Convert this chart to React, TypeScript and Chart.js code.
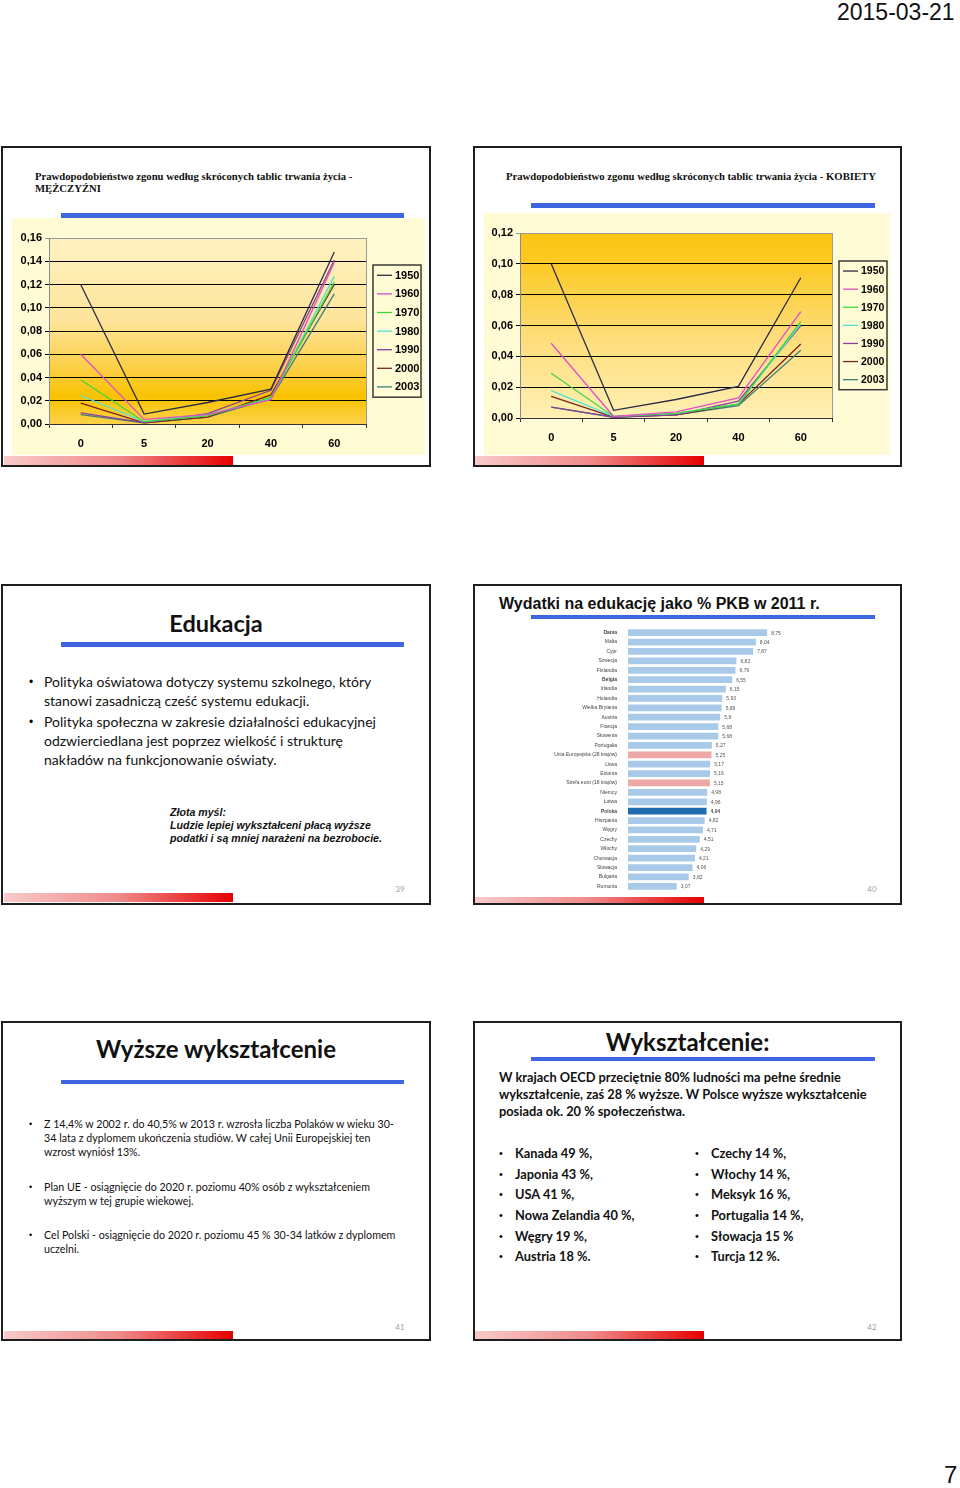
import React, { useEffect, useRef } from 'react';
import { Chart, registerables } from 'chart.js';

Chart.register(...registerables);

// ---------- DATA ----------
const ageGroups = ['0', '5', '20', '40', '60'];
const legendYears = ['1950', '1960', '1970', '1980', '1990', '2000', '2003'];

const male1950 = [0.12, 0.0085, 0.0185, 0.03, 0.148];
const male1960 = [0.06, 0.004, 0.008, 0.021, 0.139];
const male1970 = [0.038, 0.002, 0.007, 0.023, 0.122];
const male1980 = [0.0245, 0.002, 0.008, 0.022, 0.127];
const male1990 = [0.0095, 0.0012, 0.009, 0.029, 0.141];
const male2000 = [0.018, 0.001, 0.006, 0.025, 0.12];
const male2003 = [0.008, 0.001, 0.006, 0.022, 0.112];

const female1950 = [0.1, 0.005, 0.012, 0.0205, 0.091];
const female1960 = [0.0485, 0.001, 0.004, 0.013, 0.069];
const female1970 = [0.029, 0.001, 0.003, 0.009, 0.0625];
const female1980 = [0.0177, 0.001, 0.003, 0.009, 0.061];
const female1990 = [0.007, 0.0006, 0.002, 0.011, 0.06];
const female2000 = [0.014, 0.0006, 0.002, 0.009, 0.048];
const female2003 = [0.007, 0.0005, 0.002, 0.008, 0.044];

const maleSeries = [male1950, male1960, male1970, male1980, male1990, male2000, male2003];
const femaleSeries = [female1950, female1960, female1970, female1980, female1990, female2000, female2003];

const countries = [
  'Dania', 'Malta', 'Cypr', 'Szwecja', 'Finlandia', 'Belgia', 'Irlandia', 'Holandia',
  'Wielka Brytania', 'Austria', 'Francja', 'Słowenia', 'Portugalia', 'Unia Europejska (28 krajów)',
  'Litwa', 'Estonia', 'Strefa euro (18 krajów)', 'Niemcy', 'Łotwa', 'Polska', 'Hiszpania',
  'Węgry', 'Czechy', 'Włochy', 'Chorwacja', 'Słowacja', 'Bułgaria', 'Rumunia',
];
const spending = [
  8.75, 8.04, 7.87, 6.82, 6.76, 6.55, 6.15, 5.93, 5.89, 5.8, 5.68, 5.68, 5.27, 5.25,
  5.17, 5.16, 5.15, 4.98, 4.96, 4.94, 4.82, 4.71, 4.51, 4.29, 4.21, 4.06, 3.82, 3.07,
];

// ---------- STYLE ----------
const yearColors = ['#2c2c48', '#e04fc6', '#3fd43f', '#50e3d3', '#88409c', '#7a2222', '#3f7e7e'];
const ARIAL = "'Liberation Sans', Arial, sans-serif";
const SERIF = "'Liberation Serif', 'Times New Roman', serif";
const LATO = "Lato, 'Noto Sans', sans-serif";

const fmtComma = (v: number, d: number) => v.toFixed(d).replace('.', ',');

type LineProps = {
  series: number[][];
  max: number;
  width: number;
  height: number;
  yAxisWidth: number;
  xAxisHeight: number;
  padRight: number;
  gradient: [number, string][];
  legendTop: number;
  legendStep: number;
  legendFont: number;
};

function LineChart(p: LineProps) {
  const ref = useRef<HTMLCanvasElement>(null);
  useEffect(() => {
    const bgPlugin = {
      id: 'plotBg',
      beforeDraw(chart: any) {
        const { ctx, chartArea } = chart;
        const { left, top, right, bottom } = chartArea;
        ctx.save();
        const g = ctx.createLinearGradient(0, top, 0, bottom);
        p.gradient.forEach(([s, c]) => g.addColorStop(s, c));
        ctx.fillStyle = g;
        ctx.fillRect(left, top, right - left, bottom - top);
        ctx.strokeStyle = '#9a9a9a';
        ctx.lineWidth = 1;
        ctx.strokeRect(left + 0.5, top + 0.5, right - left, bottom - top);
        ctx.restore();
      },
    };
    const legendPlugin = {
      id: 'boxLegend',
      afterDraw(chart: any) {
        const { ctx, chartArea } = chart;
        const ds = chart.data.datasets;
        const bx = chartArea.right + 7;
        const by = chartArea.top + p.legendTop;
        const bw = 48;
        const bh = p.legendStep * ds.length + 2;
        ctx.save();
        ctx.strokeStyle = '#3a3a3a';
        ctx.lineWidth = 1.5;
        ctx.strokeRect(bx, by, bw, bh);
        ctx.font = `bold ${p.legendFont}px ${ARIAL}`;
        ctx.textBaseline = 'middle';
        ctx.fillStyle = '#000';
        ds.forEach((d: any, i: number) => {
          const cy = by + 1 + p.legendStep * (i + 0.5);
          ctx.strokeStyle = d.borderColor;
          ctx.lineWidth = 1.3;
          ctx.beginPath();
          ctx.moveTo(bx + 4, cy);
          ctx.lineTo(bx + 19, cy);
          ctx.stroke();
          ctx.fillText(d.label, bx + 22, cy + 0.5);
        });
        ctx.restore();
      },
    };
    const chart = new Chart(ref.current as HTMLCanvasElement, {
      type: 'line',
      data: {
        labels: ageGroups,
        datasets: p.series.map((s, i) => ({
          label: legendYears[i],
          data: s,
          borderColor: yearColors[i],
          backgroundColor: yearColors[i],
          borderWidth: 1.3,
          pointRadius: 0,
          tension: 0,
          fill: false,
        })),
      },
      options: {
        animation: false,
        responsive: false,
        maintainAspectRatio: false,
        layout: { padding: { top: 20, right: p.padRight, bottom: 0, left: 0 } },
        plugins: { legend: { display: false }, tooltip: { enabled: false } },
        scales: {
          x: {
            type: 'category',
            offset: true,
            grid: { offset: true, drawOnChartArea: false, tickLength: 4, color: '#333' },
            border: { color: '#333' },
            ticks: { font: { family: ARIAL, weight: 'bold', size: 11 }, color: '#000', padding: 9, maxRotation: 0 },
            afterFit: (s: any) => { s.height = p.xAxisHeight; },
          },
          y: {
            min: 0,
            max: p.max,
            ticks: {
              stepSize: 0.02,
              callback: (v: any) => fmtComma(Number(v), 2),
              font: { family: ARIAL, weight: 'bold', size: 11 },
              color: '#000',
              padding: 3,
            },
            grid: {
              tickLength: 4,
              color: (c: any) => (c.tick && Math.abs(c.tick.value - p.max) < 1e-9 ? '#9a9a9a' : '#000'),
            },
            border: { color: '#8a8a8a' },
            afterFit: (s: any) => { s.width = p.yAxisWidth; },
          },
        },
      } as any,
      plugins: [bgPlugin, legendPlugin],
    });
    return () => chart.destroy();
  }, []);
  return <canvas ref={ref} width={p.width} height={p.height} style={{ display: 'block', width: p.width, height: p.height, background: '#fffbd4' }} />;
}

function BarChart() {
  const ref = useRef<HTMLCanvasElement>(null);
  useEffect(() => {
    const colors = countries.map((c) =>
      c === 'Polska' ? '#1f6db0' : c.startsWith('Unia') || c.startsWith('Strefa') ? '#eea7a7' : '#a9c9e8'
    );
    const boldSet = ['Dania', 'Belgia', 'Polska'];
    const valuePlugin = {
      id: 'values',
      afterDatasetsDraw(chart: any) {
        const { ctx } = chart;
        const meta = chart.getDatasetMeta(0);
        ctx.save();
        ctx.textBaseline = 'middle';
        ctx.fillStyle = '#555';
        meta.data.forEach((bar: any, i: number) => {
          const bold = countries[i] === 'Polska';
          ctx.font = `${bold ? 'bold ' : ''}5px ${ARIAL}`;
          ctx.fillText(String(spending[i]).replace('.', ','), bar.x + 4, bar.y + 0.5);
        });
        ctx.restore();
      },
    };
    const chart = new Chart(ref.current as HTMLCanvasElement, {
      type: 'bar',
      data: {
        labels: countries,
        datasets: [{ data: spending, backgroundColor: colors, borderWidth: 0, barPercentage: 0.8, categoryPercentage: 0.9 }],
      },
      options: {
        animation: false,
        responsive: false,
        maintainAspectRatio: false,
        indexAxis: 'y',
        layout: { padding: { top: 1.7, right: 13, bottom: 2, left: 0 } },
        plugins: { legend: { display: false }, tooltip: { enabled: false } },
        scales: {
          x: { min: 0, max: 10, display: false },
          y: {
            grid: { display: false },
            border: { display: false },
            ticks: {
              autoSkip: false,
              padding: 3,
              color: '#444',
              font: (c: any) => ({ family: ARIAL, size: 5, weight: boldSet.includes(countries[c.index]) ? 'bold' : 'normal' }),
            },
            afterFit: (s: any) => { s.width = 88; },
          },
        },
      } as any,
      plugins: [valuePlugin],
    });
    return () => chart.destroy();
  }, []);
  return <canvas ref={ref} width={260} height={275} style={{ display: 'block', width: 260, height: 275 }} />;
}

// ---------- LAYOUT HELPERS ----------
const abs = (l: number, t: number, extra: React.CSSProperties = {}): React.CSSProperties => ({
  position: 'absolute', left: l, top: t, margin: 0, whiteSpace: 'pre', ...extra,
});

const frames = [
  { l: 1, t: 146, w: 430, h: 321 },
  { l: 473, t: 146, w: 429, h: 321 },
  { l: 1, t: 584, w: 430, h: 321 },
  { l: 473, t: 584, w: 429, h: 321 },
  { l: 1, t: 1021, w: 430, h: 320 },
  { l: 473, t: 1021, w: 429, h: 320 },
];
const blueBars = [
  { l: 61, t: 213, w: 343, h: 5 },
  { l: 531, t: 203, w: 344, h: 5 },
  { l: 61, t: 642, w: 343, h: 5 },
  { l: 531, t: 615, w: 344, h: 4 },
  { l: 61, t: 1080, w: 343, h: 4 },
  { l: 531, t: 1057, w: 344, h: 4 },
];
const redBars = [
  { l: 4, t: 456, h: 9 },
  { l: 475, t: 456, h: 9 },
  { l: 4, t: 893, h: 9 },
  { l: 475, t: 897, h: 6 },
  { l: 4, t: 1331, h: 8 },
  { l: 475, t: 1331, h: 8 },
];
const pageNums = [
  { n: '39', x: 400, y: 884 },
  { n: '40', x: 872, y: 884 },
  { n: '41', x: 400, y: 1322 },
  { n: '42', x: 872, y: 1322 },
];

function Bullets({ x, bx, top, lh, size, bold, lines, gap }: any) {
  let y = top;
  const out: any[] = [];
  lines.forEach((para: string[], i: number) => {
    out.push(
      <div key={'b' + i} style={abs(bx, y, { fontFamily: ARIAL, fontSize: size * 0.85, lineHeight: lh + 'px' })}>•</div>
    );
    out.push(
      <div key={'t' + i} style={abs(x, y, { fontFamily: LATO, fontSize: size, lineHeight: lh + 'px', fontWeight: bold ? 700 : 400, color: '#111' })}>
        {para.join('\n')}
      </div>
    );
    y += para.length * lh + gap[i];
  });
  return <>{out}</>;
}

export default function App() {
  return (
    <div style={{ position: 'absolute', left: 0, top: 0, width: 960, height: 1488, background: '#fff', overflow: 'hidden' }}>
      <div style={abs(837, 1, { fontFamily: ARIAL, fontSize: 23, lineHeight: '23px', color: '#111' })}>2015-03-21</div>
      <div style={abs(944, 1463, { fontFamily: ARIAL, fontSize: 24, lineHeight: '24px', color: '#111' })}>7</div>

      {frames.map((f, i) => (
        <div key={'f' + i} style={{ position: 'absolute', left: f.l, top: f.t, width: f.w, height: f.h, border: '2px solid #1e1e1e', boxSizing: 'border-box', background: '#fff' }} />
      ))}
      {blueBars.map((b, i) => (
        <div key={'bb' + i} style={{ position: 'absolute', left: b.l, top: b.t, width: b.w, height: b.h, background: '#3d66e0' }} />
      ))}
      {redBars.map((b, i) => (
        <div key={'rb' + i} style={{ position: 'absolute', left: b.l, top: b.t, width: 229, height: b.h, background: 'linear-gradient(to right, #f8caca, #f08a8a 50%, #e60000)' }} />
      ))}
      {pageNums.map((p) => (
        <div key={p.n} style={abs(p.x - 10, p.y, { width: 20, textAlign: 'center', fontFamily: LATO, fontSize: 8, lineHeight: '10px', color: '#a0a0a0' })}>{p.n}</div>
      ))}

      {/* Slide 1 */}
      <div style={abs(35, 169.5, { fontFamily: SERIF, fontWeight: 700, fontSize: 10.7, lineHeight: '12.4px', color: '#111' })}>
        {'Prawdopodobieństwo zgonu według skróconych tablic trwania życia -\nMĘŻCZYŹNI'}
      </div>
      <div style={abs(12, 218)}>
        <LineChart
          series={maleSeries}
          max={0.16}
          width={413}
          height={237}
          yAxisWidth={37}
          xAxisHeight={31}
          padRight={59}
          gradient={[[0, '#fff2c2'], [0.45, '#fee49a'], [0.7, '#fccf45'], [0.85, '#f9c200'], [1, '#fbd24a']]}
          legendTop={27}
          legendStep={18.6}
          legendFont={11}
        />
      </div>

      {/* Slide 2 */}
      <div style={abs(506, 169.5, { fontFamily: SERIF, fontWeight: 700, fontSize: 10.7, lineHeight: '12.4px', color: '#111' })}>
        Prawdopodobieństwo zgonu według skróconych tablic trwania życia - KOBIETY
      </div>
      <div style={abs(484, 213)}>
        <LineChart
          series={femaleSeries}
          max={0.12}
          width={406}
          height={242}
          yAxisWidth={36}
          xAxisHeight={37}
          padRight={58}
          gradient={[[0, '#fbc410'], [0.2, '#fccb2a'], [0.55, '#fedc78'], [1, '#fff0b4']]}
          legendTop={28}
          legendStep={18.1}
          legendFont={10.5}
        />
      </div>

      {/* Slide 3 */}
      <div style={abs(1, 608.6, { width: 430, textAlign: 'center', fontFamily: LATO, fontWeight: 700, fontSize: 23.5, lineHeight: '28px', color: '#111' })}>Edukacja</div>
      <Bullets
        x={44} bx={29} top={673.2} lh={18.7} size={14} bold={false} gap={[2.6, 0]}
        lines={[
          ['Polityka oświatowa dotyczy systemu szkolnego, który', 'stanowi zasadniczą cześć systemu edukacji.'],
          ['Polityka społeczna w zakresie działalności edukacyjnej', 'odzwierciedlana jest poprzez wielkość i strukturę', 'nakładów na funkcjonowanie oświaty.'],
        ]}
      />
      <div style={abs(170, 805.6, { fontFamily: ARIAL, fontWeight: 700, fontStyle: 'italic', fontSize: 10.6, lineHeight: '13.2px', color: '#111' })}>
        {'Złota myśl:\nLudzie lepiej wykształceni płacą wyższe\npodatki i są mniej narażeni na bezrobocie.'}
      </div>

      {/* Slide 4 */}
      <div style={abs(499, 595.2, { fontFamily: ARIAL, fontWeight: 700, fontSize: 16, lineHeight: '18px', color: '#111' })}>
        Wydatki na edukację jako % PKB w 2011 r.
      </div>
      <div style={abs(540, 622)}>
        <BarChart />
      </div>

      {/* Slide 5 */}
      <div style={abs(1, 1034.5, { width: 430, textAlign: 'center', fontFamily: LATO, fontWeight: 700, fontSize: 24, lineHeight: '28px', color: '#111' })}>Wyższe wykształcenie</div>
      <Bullets
        x={44} bx={29} top={1116.6} lh={14} size={10.7} bold={false} gap={[21, 20.6, 0]}
        lines={[
          ['Z 14,4% w 2002 r. do 40,5% w 2013 r. wzrosła liczba Polaków w wieku 30-', '34 lata z dyplomem ukończenia studiów. W całej Unii Europejskiej ten', 'wzrost wyniósł 13%.'],
          ['Plan UE - osiągnięcie do 2020 r. poziomu 40% osób z wykształceniem', 'wyższym w tej grupie wiekowej.'],
          ['Cel Polski - osiągnięcie do 2020 r. poziomu 45 % 30-34 latków z dyplomem', 'uczelni.'],
        ]}
      />

      {/* Slide 6 */}
      <div style={abs(473, 1028.2, { width: 429, textAlign: 'center', fontFamily: LATO, fontWeight: 700, fontSize: 24, lineHeight: '28px', color: '#111' })}>Wykształcenie:</div>
      <div style={abs(499, 1069, { fontFamily: LATO, fontWeight: 700, fontSize: 12.8, lineHeight: '17px', color: '#111' })}>
        {'W krajach OECD przeciętnie 80% ludności ma pełne średnie\nwykształcenie, zaś 28 % wyższe. W Polsce wyższe wykształcenie\nposiada ok. 20 % społeczeństwa.'}
      </div>
      <Bullets
        x={515} bx={499} top={1143.2} lh={20.6} size={12.8} bold={true} gap={[0, 0, 0, 0, 0, 0]}
        lines={[['Kanada 49 %,'], ['Japonia 43 %,'], ['USA 41 %,'], ['Nowa Zelandia 40 %,'], ['Węgry 19 %,'], ['Austria 18 %.']]}
      />
      <Bullets
        x={711} bx={695} top={1143.2} lh={20.6} size={12.8} bold={true} gap={[0, 0, 0, 0, 0, 0]}
        lines={[['Czechy 14 %,'], ['Włochy 14 %,'], ['Meksyk 16 %,'], ['Portugalia 14 %,'], ['Słowacja 15 %'], ['Turcja 12 %.']]}
      />
    </div>
  );
}
